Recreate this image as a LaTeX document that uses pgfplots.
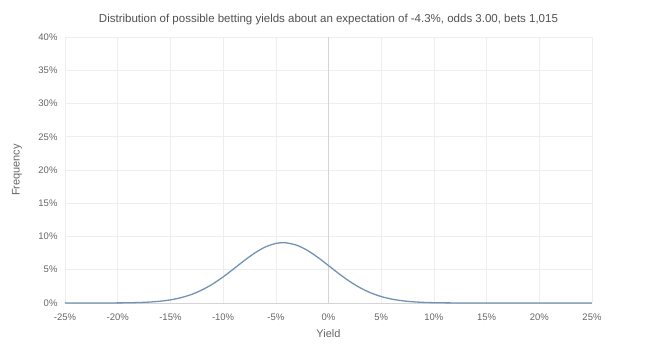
\documentclass[border=0pt]{standalone}
\usepackage{fontspec}
\setmainfont{Liberation Sans}
\usepackage{pgfplots}
\pgfplotsset{compat=1.18}
\definecolor{curve}{RGB}{115,146,182}
\definecolor{gridc}{RGB}{238,238,238}
\definecolor{txt}{RGB}{102,102,102}
\definecolor{titletxt}{RGB}{80,80,80}
\definecolor{zeroc}{RGB}{212,212,212}
\begin{document}
\begin{tikzpicture}
\begin{axis}[
  at={(0,0)}, anchor=south west,
  scale only axis, width=527pt, height=266pt,
  xmin=-25, xmax=25, ymin=0, ymax=40,
  xtick={-25,-20,...,25}, ytick={0,5,...,40},
  xticklabel={\pgfmathprintnumber{\tick}\%},
  yticklabel={\pgfmathprintnumber{\tick}\%},
  /pgf/number format/assume math mode=true,
  tick label style={font=\fontsize{9.5}{11}\selectfont, text=txt},
  xticklabel style={yshift=-7pt},
  yticklabel style={xshift=-4pt},
  major tick length=0pt,
  grid=major, major grid style={gridc, line width=0.5pt},
  axis line style={draw=none},
  xlabel={Yield},
  label style={font=\fontsize{11}{12}\selectfont, text=txt},
  xlabel style={at={(axis description cs:0.5,0)}, anchor=center, yshift=-31pt},
  clip=false,
]
\draw[zeroc, line width=0.7pt] (axis cs:-25,0) -- (axis cs:25,0);
\draw[zeroc, line width=0.9pt] (axis cs:0,0) -- (axis cs:0,40);
\addplot[curve, line width=1.3pt, smooth, no marks] coordinates {
(-25,0.0001) (-22,0.0025) (-20,0.0156) (-19,0.0342) (-18,0.0712) (-17,0.1408)
(-16,0.2645) (-15,0.471) (-14,0.7985) (-13,1.284) (-12,1.962) (-11,2.845)
(-10,3.919) (-9,5.127) (-8,6.369) (-7,7.514) (-6,8.418) (-5,8.956) (-4.3,9.07)
(-4,9.049) (-3,8.683) (-2,7.912) (-1,6.847) (0,5.626) (1,4.391) (2,3.254)
(3,2.290) (4,1.531) (5,0.9716) (6,0.5857) (7,0.3354) (8,0.1823) (9,0.0941)
(10,0.0461) (12,0.0095) (15,0.0004) (20,0) (25,0)
};
\node[font=\fontsize{11.5}{13}\selectfont, text=titletxt] at (rel axis cs:0.5,1) [yshift=17pt] {Distribution of possible betting yields about an expectation of -4.3\%, odds 3.00, bets 1,015};
\node[font=\fontsize{11}{12}\selectfont, text=txt, rotate=90] at ([xshift=-48pt]rel axis cs:0,0.5) {Frequency};
\end{axis}
\useasboundingbox (-65pt,-52pt) rectangle (593pt,303pt);
\end{tikzpicture}
\end{document}
